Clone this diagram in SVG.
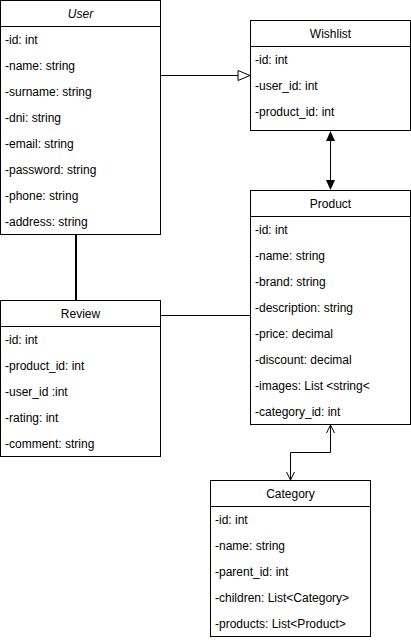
<svg xmlns="http://www.w3.org/2000/svg" width="411" height="640" viewBox="0 0 411 640">
<style>
.box{fill:#fff;stroke:#000;stroke-width:1}
.t{font-family:"Liberation Sans",Arial,sans-serif;font-size:12px;fill:#000}
.h{font-family:"Liberation Sans",Arial,sans-serif;font-size:12px;fill:#000;text-anchor:middle}
.c{fill:none;stroke:#000;stroke-width:1}
</style>
<defs>
<marker id="tri" viewBox="0 0 14 12" refX="13" refY="6" markerWidth="14" markerHeight="12" markerUnits="userSpaceOnUse" orient="auto">
<path d="M1,1 L13,6 L1,11 Z" fill="#fff" stroke="#000" stroke-width="1"/>
</marker>
<marker id="open" viewBox="0 0 10 10" refX="9" refY="5" markerWidth="10" markerHeight="10" markerUnits="userSpaceOnUse" orient="auto">
<path d="M1,1 L9,5 L1,9" fill="none" stroke="#000" stroke-width="1"/>
</marker>
</defs>
<g id="connectors">
<path class="c" d="M160.5,75.5 H250" marker-end="url(#tri)"/>
<path class="c" d="M330.5,141 V180"/>
<path d="M330.5,131 L326,141 L335,141 Z" fill="#000"/>
<path d="M330.5,190 L326,180 L335,180 Z" fill="#000"/>
<path class="c" d="M76,232 V300" style="stroke-width:2"/>
<path class="c" d="M160.5,315.5 H250.5"/>
<path class="c" d="M330.5,452.5 V425" marker-end="url(#open)"/>
<path class="c" d="M330.5,452.5 H290.5 V480" marker-end="url(#open)"/>
</g>
<g id="user">
<rect class="box" x="0.5" y="0.5" width="160" height="234"/>
<line class="c" x1="0.5" y1="26.5" x2="160.5" y2="26.5"/>
<text class="h" x="80.5" y="18" font-style="italic">User</text>
<text class="t" x="5" y="44">-id: int</text>
<text class="t" x="5" y="70">-name: string</text>
<text class="t" x="5" y="96">-surname: string</text>
<text class="t" x="5" y="122">-dni: string</text>
<text class="t" x="5" y="148">-email: string</text>
<text class="t" x="5" y="174">-password: string</text>
<text class="t" x="5" y="200">-phone: string</text>
<text class="t" x="5" y="226">-address: string</text>
</g>
<g id="wishlist">
<rect class="box" x="250.5" y="20.5" width="160" height="110"/>
<line class="c" x1="250.5" y1="46.5" x2="410.5" y2="46.5"/>
<text class="h" x="330.5" y="38">Wishlist</text>
<text class="t" x="255" y="64">-id: int</text>
<text class="t" x="255" y="90">-user_id: int</text>
<text class="t" x="255" y="116">-product_id: int</text>
</g>
<g id="product">
<rect class="box" x="250.5" y="190.5" width="160" height="234"/>
<line class="c" x1="250.5" y1="216.5" x2="410.5" y2="216.5"/>
<text class="h" x="330.5" y="208">Product</text>
<text class="t" x="255" y="234">-id: int</text>
<text class="t" x="255" y="260">-name: string</text>
<text class="t" x="255" y="286">-brand: string</text>
<text class="t" x="255" y="312">-description: string</text>
<text class="t" x="255" y="338">-price: decimal</text>
<text class="t" x="255" y="364">-discount: decimal</text>
<text class="t" x="255" y="390">-images: List &lt;string&lt;</text>
<text class="t" x="255" y="416">-category_id: int</text>
</g>
<g id="review">
<rect class="box" x="0.5" y="300.5" width="160" height="156"/>
<line class="c" x1="0.5" y1="326.5" x2="160.5" y2="326.5"/>
<text class="h" x="80.5" y="318">Review</text>
<text class="t" x="5" y="344">-id: int</text>
<text class="t" x="5" y="370">-product_id: int</text>
<text class="t" x="5" y="396">-user_id :int</text>
<text class="t" x="5" y="422">-rating: int</text>
<text class="t" x="5" y="448">-comment: string</text>
</g>
<g id="category">
<rect class="box" x="210.5" y="480.5" width="160" height="156"/>
<line class="c" x1="210.5" y1="506.5" x2="370.5" y2="506.5"/>
<text class="h" x="290.5" y="498">Category</text>
<text class="t" x="215" y="524">-id: int</text>
<text class="t" x="215" y="550">-name: string</text>
<text class="t" x="215" y="576">-parent_id: int</text>
<text class="t" x="215" y="602">-children: List&lt;Category&gt;</text>
<text class="t" x="215" y="628">-products: List&lt;Product&gt;</text>
</g>
</svg>
